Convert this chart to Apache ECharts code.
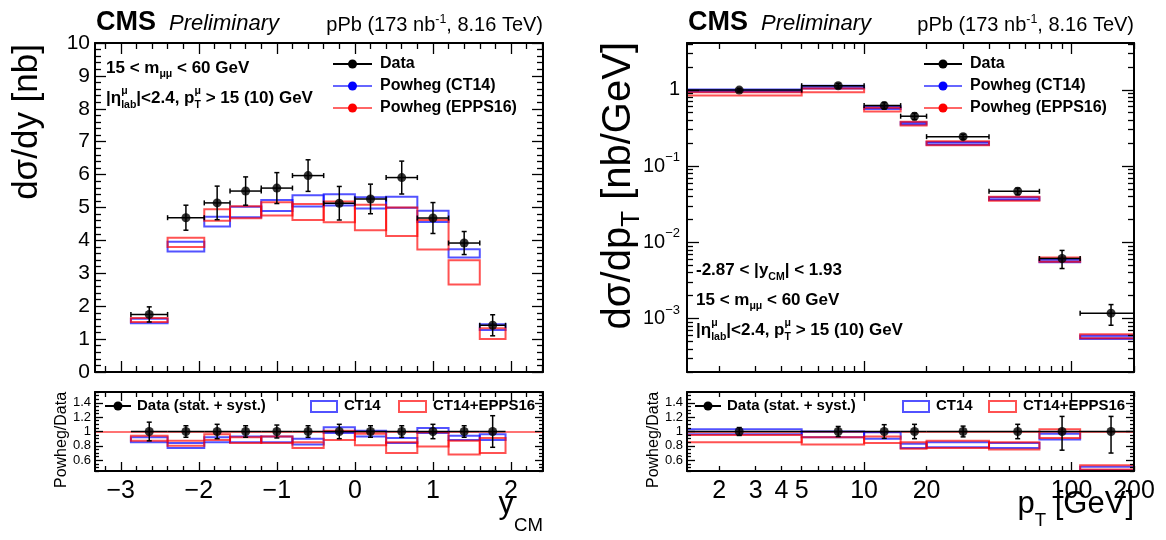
<!DOCTYPE html>
<html><head><meta charset="utf-8">
<script src="https://cdn.jsdelivr.net/npm/echarts@6/dist/echarts.min.js"></script>
<style>html,body{margin:0;padding:0;background:#fff}#c{width:1166px;height:540px}</style>
</head><body><div id="c"></div>
<script>
// ---------------- DATA ----------------
// Left panel: d sigma / dy versus y_CM
const yBinEdges   = [-2.87,-2.4,-1.93,-1.6,-1.2,-0.8,-0.4,0,0.4,0.8,1.2,1.6,1.93];
const yBinCenters = [-2.635,-2.165,-1.765,-1.4,-1.0,-0.6,-0.2,0.2,0.6,1.0,1.4,1.765];
const yData       = [1.75,4.69,5.14,5.50,5.59,5.97,5.13,5.26,5.91,4.68,3.92,1.42];
const yDataErr    = [0.23,0.38,0.51,0.43,0.47,0.48,0.51,0.45,0.50,0.47,0.35,0.32];
const yCT14Lo     = [1.48,3.66,4.42,4.70,4.89,5.03,5.06,4.97,4.99,4.56,3.48,1.28];
const yCT14Hi     = [1.62,3.96,4.72,5.02,5.23,5.37,5.40,5.31,5.33,4.90,3.73,1.45];
const yEPPSLo     = [1.52,3.80,4.60,4.67,4.76,4.62,4.55,4.31,4.13,3.72,2.66,1.00];
const yEPPSHi     = [1.64,4.08,4.95,5.04,5.16,5.11,5.18,5.08,5.00,4.62,3.40,1.33];
const yRatioData  = [1,1,1,1,1,1,1,1,1,1,1,1];
const yRatioErr   = [0.13,0.08,0.10,0.08,0.09,0.08,0.10,0.08,0.08,0.10,0.08,0.22];
const yRatioCT14Lo = [0.85,0.77,0.85,0.85,0.85,0.82,0.98,0.93,0.84,0.98,0.88,0.88];
const yRatioCT14Hi = [0.92,0.84,0.92,0.93,0.93,0.90,1.06,1.01,0.91,1.05,0.94,0.96];
const yRatioEPPSLo = [0.87,0.80,0.88,0.84,0.84,0.77,0.88,0.81,0.70,0.79,0.68,0.70];
const yRatioEPPSHi = [0.94,0.87,0.96,0.92,0.93,0.85,1.01,0.97,0.85,0.99,0.87,0.91];

// Right panel: d sigma / dpT versus pT
const ptBinEdges   = [0,5,10,15,20,40,70,110,200];
const ptBinCenters = [2.5,7.5,12.5,17.5,30,55,90,155];
const ptData       = [0.99,1.13,0.62,0.45,0.243,0.0467,0.00614,0.00118];
const ptDataErrUp  = [0.054,0.08,0.06,0.045,0.018,0.0047,0.0017,0.00035];
const ptDataErrDn  = [0.054,0.08,0.06,0.045,0.018,0.0047,0.0016,0.00036];
const ptCT14Lo     = [0.94,1.04,0.56,0.35,0.190,0.0360,0.00547,0.000543];
const ptCT14Hi     = [1.01,1.13,0.61,0.375,0.206,0.0390,0.00596,0.000602];
const ptEPPSLo     = [0.84,0.93,0.52,0.34,0.187,0.0350,0.00559,0.000555];
const ptEPPSHi     = [0.93,1.04,0.58,0.38,0.211,0.0397,0.00632,0.000625];
const ptRatioData  = [1,1,1,1,1,1,1,1];
const ptRatioErrUp = [0.055,0.07,0.095,0.10,0.075,0.10,0.21,0.21];
const ptRatioErrDn = [0.055,0.07,0.095,0.10,0.075,0.10,0.26,0.30];
const ptRatioCT14Lo = [0.96,0.92,0.90,0.77,0.78,0.77,0.89,0.46];
const ptRatioCT14Hi = [1.03,1.00,0.99,0.83,0.85,0.84,0.97,0.51];
const ptRatioEPPSLo = [0.85,0.82,0.84,0.76,0.77,0.75,0.91,0.47];
const ptRatioEPPSHi = [0.95,0.92,0.93,0.85,0.87,0.85,1.03,0.53];

// Tick labels
const yCMTickLabels   = [-3,-2,-1,0,1,2];
const dsdyTickLabels  = [0,1,2,3,4,5,6,7,8,9,10];
const ratioTickLabels = [0.6,0.8,1,1.2,1.4];
const ptTickLabels    = [2,3,4,5,10,20,100,200];
const ptMajorTicks    = [10,100];
const dsdptTickLabels = [0.001,0.01,0.1,1];

// ---------------- helpers ----------------
const FONT = "'Liberation Sans', Arial, Helvetica, sans-serif";
const BLUE_LINE = 'rgba(0,0,255,0.68)';
const RED_LINE  = 'rgba(255,0,0,0.68)';
const BLUE_FILL = 'rgba(0,0,255,0.42)';

function stepTicks(a, b, step, skipEvery) {
  const out = [];
  const n0 = Math.round(a / step), n1 = Math.round(b / step);
  for (let k = n0; k <= n1; k++) {
    if (skipEvery && k % skipEvery === 0) continue;
    out.push(+(k * step).toFixed(4));
  }
  return out;
}
function logMinor(lo, hi) {
  const out = [];
  for (let e = -5; e <= 3; e++) for (let m = 2; m <= 9; m++) {
    const v = +(m * Math.pow(10, e)).toPrecision(3);
    if (v >= lo && v <= hi) out.push(v);
  }
  return out;
}

const xAx = [], yAx = [];
function addAxisSet(list, dim, o) {
  const posA = dim === 'x' ? 'bottom' : 'left';
  const posB = dim === 'x' ? 'top' : 'right';
  const mk = (pos, line, ticks, len, lab) => {
    const a = {
      type: o.type || 'value', gridIndex: o.grid, position: pos, min: o.min, max: o.max,
      silent: true, z: 10,
      splitLine: {show: false}, minorTick: {show: false}, minorSplitLine: {show: false},
      axisLine: {show: line, onZero: false, lineStyle: {color: '#000', width: 2}},
      axisTick: {show: true, inside: true, length: len, customValues: ticks, lineStyle: {color: '#000', width: 1.3}},
      axisLabel: lab ? {show: true, customValues: o.labels, formatter: o.fmt, fontSize: o.fs, fontFamily: FONT,
                        color: '#000', margin: o.margin, rich: o.rich || {}} : {show: false}
    };
    if (o.type === 'log') a.logBase = 10;
    return a;
  };
  const idx = list.length;
  list.push(mk(posA, true, o.major, o.majorLen, !!o.labels));
  list.push(mk(posA, false, o.minor, o.minorLen, false));
  list.push(mk(posB, true, o.major, o.majorLen, false));
  list.push(mk(posB, false, o.minor, o.minorLen, false));
  return idx;
}
const minusFmt = v => (v < 0 ? '\u2212' + (-v) : String(v));
const ratioFmt = v => String(+(+v).toFixed(1));
const powFmt = v => {
  const e = Math.round(Math.log10(v));
  return e === 0 ? '{m|1}' : '{m|10}{e|\u2212' + (-e) + '}';
};
const powRich = {
  m: {fontSize: 20, fontFamily: FONT, color: '#000', lineHeight: 30},
  e: {fontSize: 13, fontFamily: FONT, color: '#000', verticalAlign: 'top', lineHeight: 14}
};

// axes: grid 0 = left top, 1 = left ratio, 2 = right top, 3 = right ratio
const xLT = addAxisSet(xAx, 'x', {grid: 0, min: -3.33, max: 2.41, major: yCMTickLabels,
  minor: stepTicks(-3.2, 2.4, 0.2, 5), majorLen: 11, minorLen: 6});
const yLT = addAxisSet(yAx, 'y', {grid: 0, min: 0, max: 10, major: dsdyTickLabels,
  minor: stepTicks(0, 10, 0.2, 5), labels: dsdyTickLabels, fmt: v => String(v), fs: 21, margin: 5, majorLen: 11, minorLen: 6});
const xLR = addAxisSet(xAx, 'x', {grid: 1, min: -3.33, max: 2.41, major: yCMTickLabels,
  minor: stepTicks(-3.2, 2.4, 0.2, 5), labels: yCMTickLabels, fmt: minusFmt, fs: 25, margin: 8, majorLen: 9, minorLen: 5});
const yLR = addAxisSet(yAx, 'y', {grid: 1, min: 0.45, max: 1.55, major: ratioTickLabels,
  minor: stepTicks(0.45, 1.55, 0.05, 4), labels: ratioTickLabels, fmt: ratioFmt, fs: 13, margin: 4, majorLen: 8, minorLen: 4});
const xRT = addAxisSet(xAx, 'x', {grid: 2, type: 'log', min: 1.4, max: 200, major: ptMajorTicks,
  minor: logMinor(1.4, 200), majorLen: 11, minorLen: 6});
const yRT = addAxisSet(yAx, 'y', {grid: 2, type: 'log', min: 2e-4, max: 4.1, major: dsdptTickLabels,
  minor: logMinor(2e-4, 4.1), labels: dsdptTickLabels, fmt: powFmt, rich: powRich, fs: 20, margin: 7, majorLen: 12, minorLen: 6});
const xRR = addAxisSet(xAx, 'x', {grid: 3, type: 'log', min: 1.4, max: 200, major: ptMajorTicks,
  minor: logMinor(1.4, 200), labels: ptTickLabels, fmt: v => String(Math.round(v)), fs: 25, margin: 8, majorLen: 9, minorLen: 5});
const yRR = addAxisSet(yAx, 'y', {grid: 3, min: 0.45, max: 1.55, major: ratioTickLabels,
  minor: stepTicks(0.45, 1.55, 0.05, 4), labels: ratioTickLabels, fmt: ratioFmt, fs: 13, margin: 4, majorLen: 8, minorLen: 4});

function boxSeries(xi, yi, edges, lo, hi, stroke, fill, xMin, z) {
  return {
    type: 'custom', xAxisIndex: xi, yAxisIndex: yi, clip: true, z: z, silent: true,
    encode: {x: 1, y: 2},
    data: lo.map((l, i) => [edges[i], edges[i + 1], l, hi[i]]),
    renderItem(params, api) {
      const a = api.coord([Math.max(api.value(0), xMin), api.value(3)]);
      const b = api.coord([api.value(1), api.value(2)]);
      return {type: 'rect', shape: {x: a[0], y: a[1], width: b[0] - a[0], height: b[1] - a[1]},
              style: {fill: fill, stroke: stroke, lineWidth: 2}};
    }
  };
}
function errSeries(xi, yi, edges, centers, vals, up, dn, xMin, hCaps) {
  return {
    type: 'custom', xAxisIndex: xi, yAxisIndex: yi, clip: true, z: 5, silent: true,
    encode: {x: 0, y: 1},
    data: centers.map((c, i) => [c, vals[i], edges[i], edges[i + 1], vals[i] + up[i], vals[i] - dn[i]]),
    renderItem(params, api) {
      const c = api.coord([api.value(0), api.value(1)]);
      const xl = api.coord([Math.max(api.value(2), xMin), api.value(1)])[0];
      const xr = api.coord([api.value(3), api.value(1)])[0];
      const yt = api.coord([api.value(0), api.value(4)])[1];
      const yb = api.coord([api.value(0), api.value(5)])[1];
      const st = {stroke: '#000', lineWidth: 1.5};
      const k = 2.5;
      const ch = [
        {type: 'line', shape: {x1: xl, y1: c[1], x2: xr, y2: c[1]}, style: st},
        {type: 'line', shape: {x1: c[0], y1: yt, x2: c[0], y2: yb}, style: st},
        {type: 'line', shape: {x1: c[0] - k, y1: yt, x2: c[0] + k, y2: yt}, style: st},
        {type: 'line', shape: {x1: c[0] - k, y1: yb, x2: c[0] + k, y2: yb}, style: st}
      ];
      if (hCaps) {
        ch.push({type: 'line', shape: {x1: xl, y1: c[1] - k, x2: xl, y2: c[1] + k}, style: st});
        ch.push({type: 'line', shape: {x1: xr, y1: c[1] - k, x2: xr, y2: c[1] + k}, style: st});
      }
      return {type: 'group', children: ch};
    }
  };
}
function dotSeries(xi, yi, centers, vals, refLine) {
  const s = {
    type: 'scatter', xAxisIndex: xi, yAxisIndex: yi, z: 6, silent: true,
    symbol: 'circle', symbolSize: 9, itemStyle: {color: '#000'},
    data: centers.map((c, i) => [c, vals[i]])
  };
  if (refLine) s.markLine = {silent: true, symbol: 'none', z: 1, animation: false, label: {show: false},
    lineStyle: {color: 'rgba(255,0,0,0.55)', width: 2, type: 'solid'}, data: [{yAxis: 1}]};
  return s;
}

const NEG = -Infinity;
const series = [
  boxSeries(xLT, yLT, yBinEdges, yCT14Lo, yCT14Hi, BLUE_LINE, 'none', NEG, 2),
  boxSeries(xLT, yLT, yBinEdges, yEPPSLo, yEPPSHi, RED_LINE, 'none', NEG, 3),
  errSeries(xLT, yLT, yBinEdges, yBinCenters, yData, yDataErr, yDataErr, NEG, true),
  dotSeries(xLT, yLT, yBinCenters, yData),

  boxSeries(xLR, yLR, yBinEdges, yRatioCT14Lo, yRatioCT14Hi, BLUE_LINE, 'none', NEG, 2),
  boxSeries(xLR, yLR, yBinEdges, yRatioEPPSLo, yRatioEPPSHi, RED_LINE, 'none', NEG, 3),
  errSeries(xLR, yLR, yBinEdges, yBinCenters, yRatioData, yRatioErr, yRatioErr, NEG, false),
  dotSeries(xLR, yLR, yBinCenters, yRatioData, true),

  boxSeries(xRT, yRT, ptBinEdges, ptCT14Lo, ptCT14Hi, BLUE_LINE, BLUE_FILL, 1.4, 2),
  boxSeries(xRT, yRT, ptBinEdges, ptEPPSLo, ptEPPSHi, RED_LINE, 'none', 1.4, 3),
  errSeries(xRT, yRT, ptBinEdges, ptBinCenters, ptData, ptDataErrUp, ptDataErrDn, 1.4, true),
  dotSeries(xRT, yRT, ptBinCenters, ptData),

  boxSeries(xRR, yRR, ptBinEdges, ptRatioCT14Lo, ptRatioCT14Hi, BLUE_LINE, 'none', 1.4, 2),
  boxSeries(xRR, yRR, ptBinEdges, ptRatioEPPSLo, ptRatioEPPSHi, RED_LINE, 'none', 1.4, 3),
  errSeries(xRR, yRR, ptBinEdges, ptBinCenters, ptRatioData, ptRatioErrUp, ptRatioErrDn, 1.4, false),
  dotSeries(xRR, yRR, ptBinCenters, ptRatioData, true)
];

// ---------------- text with sub/superscripts ----------------
const mctx = document.createElement('canvas').getContext('2d');
function tw(t, size, weight, fst) {
  mctx.font = fst + ' ' + weight + ' ' + size + 'px ' + FONT;
  return mctx.measureText(t).width;
}
function mathGroup(x0, y0, pieces, S, opt, align, rotation) {
  opt = opt || {};
  const weight = opt.weight || 'normal', fst = opt.style || 'normal', col = opt.color || '#000';
  const ss = S * (opt.scale || 0.62);
  const subDy = opt.subDy != null ? opt.subDy : 0.3 * S;
  const supDy = opt.supDy != null ? opt.supDy : -0.45 * S;
  const els = []; let x = 0;
  function put(t, size, base) {
    els.push({type: 'text', x: x, y: base - 0.35 * size, silent: true,
      style: {text: t, fontSize: size, fontFamily: FONT, fontWeight: weight, fontStyle: fst, fill: col,
              align: 'left', verticalAlign: 'middle', textAlign: 'left', textVerticalAlign: 'middle'}});
    return tw(t, size, weight, fst);
  }
  pieces.forEach(p => {
    if (p.ss) { const w1 = put(p.ss[0], ss, supDy); const w2 = put(p.ss[1], ss, subDy); x += Math.max(w1, w2); }
    else if (p.k === 'sub') x += put(p.t, ss, subDy);
    else if (p.k === 'sup') x += put(p.t, ss, supDy);
    else x += put(p.t, S, 0);
  });
  const off = align === 'right' ? -x : align === 'center' ? -x / 2 : 0;
  els.forEach(e => { e.x += off; });
  return {type: 'group', x: x0, y: y0, rotation: rotation || 0, silent: true, children: els};
}
function legLine(x1, x2, y, lineColor, dotColor) {
  return [
    {type: 'line', silent: true, shape: {x1: x1, y1: y, x2: x2, y2: y}, style: {stroke: lineColor, lineWidth: 2}},
    {type: 'circle', silent: true, shape: {cx: (x1 + x2) / 2, cy: y, r: 4.5}, style: {fill: dotColor}}
  ];
}
function legBox(x1, x2, y1, y2, color) {
  return {type: 'rect', silent: true, shape: {x: x1, y: y1, width: x2 - x1, height: y2 - y1},
          style: {fill: 'none', stroke: color, lineWidth: 2}};
}

const B = {weight: 'bold'};
const g = [];
[0, 592].forEach(dx => {
  g.push(mathGroup(96 + dx, 32, [{t: 'CMS'}], 27, B));
  g.push(mathGroup(169 + dx, 32, [{t: 'Preliminary'}], 22, {style: 'italic'}));
  g.push(mathGroup(543 + dx - (dx ? 1 : 0), 32, [{t: 'pPb (173 nb'}, {t: '-1', k: 'sup'}, {t: ', 8.16 TeV)'}], 20, {supDy: -8}, 'right'));
  // legend (top)
  const lx = dx ? 924 : 333, lx2 = dx ? 962 : 372, tx = dx ? 970 : 380;
  g.push(...legLine(lx, lx2, 64, '#000', '#000'));
  g.push(...legLine(lx, lx2, 86, 'rgba(0,0,255,0.6)', '#0000ff'));
  g.push(...legLine(lx, lx2, 108, 'rgba(255,0,0,0.6)', '#ff0000'));
  g.push(mathGroup(tx, 69.5, [{t: 'Data'}], 16, B));
  g.push(mathGroup(tx, 91.5, [{t: 'Powheg (CT14)'}], 16, B));
  g.push(mathGroup(tx, 113.5, [{t: 'Powheg (EPPS16)'}], 16, B));
  // ratio legend
  const rx = dx ? 695 : 105;
  g.push(...legLine(rx, rx + 26, 406, '#000', '#000'));
  g.push(mathGroup(rx + 32, 411.5, [{t: 'Data (stat. + syst.)'}], 15, B));
  const bx = dx ? 903 : 311, ex = dx ? 989 : 399;
  g.push(legBox(bx, bx + 26, 401, 412, BLUE_LINE));
  g.push(mathGroup(bx + 33, 411.5, [{t: 'CT14'}], 15, B));
  g.push(legBox(ex, ex + 27, 401, 412, RED_LINE));
  g.push(mathGroup(ex + 34, 411.5, [{t: 'CT14+EPPS16'}], 15, B));
  // ratio y title
  g.push(mathGroup(67 + dx, 440, [{t: 'Powheg/Data'}], 16, {}, 'center', Math.PI / 2));
});
// left annotations
g.push(mathGroup(106, 74, [{t: '15 < m'}, {t: '\u03bc\u03bc', k: 'sub'}, {t: ' < 60 GeV'}], 17, Object.assign({subDy: 4}, B)));
g.push(mathGroup(106, 104, [{t: '|\u03b7'}, {ss: ['\u03bc', 'lab']}, {t: '|<2.4, p'}, {ss: ['\u03bc', 'T']}, {t: ' > 15 (10) GeV'}], 17, Object.assign({subDy: 5, supDy: -9}, B)));
// right annotations
g.push(mathGroup(696, 276, [{t: '-2.87 < |y'}, {t: 'CM', k: 'sub'}, {t: '| < 1.93'}], 17, Object.assign({subDy: 5}, B)));
g.push(mathGroup(696, 306, [{t: '15 < m'}, {t: '\u03bc\u03bc', k: 'sub'}, {t: ' < 60 GeV'}], 17, Object.assign({subDy: 4}, B)));
g.push(mathGroup(696, 336, [{t: '|\u03b7'}, {ss: ['\u03bc', 'lab']}, {t: '|<2.4, p'}, {ss: ['\u03bc', 'T']}, {t: ' > 15 (10) GeV'}], 17, Object.assign({subDy: 5, supDy: -9}, B)));
// axis titles
g.push(mathGroup(40, 44, [{t: 'd\u03c3/dy [nb]'}], 35, {}, 'right', Math.PI / 2));
g.push(mathGroup(633, 42, [{t: 'd\u03c3/dp'}, {t: 'T', k: 'sub'}, {t: ' [nb/GeV]'}], 40, {subDy: 8, scale: 0.65}, 'right', Math.PI / 2));
g.push(mathGroup(543, 515, [{t: 'y'}, {t: 'CM', k: 'sub'}], 31, {subDy: 17, scale: 0.6}, 'right'));
g.push(mathGroup(1134, 515, [{t: 'p'}, {t: 'T', k: 'sub'}, {t: ' [GeV]'}], 31, {subDy: 12, scale: 0.6}, 'right'));

const chart = echarts.init(document.getElementById('c'), null, {renderer: 'canvas'});
chart.setOption({
  animation: false,
  backgroundColor: '#fff',
  grid: [
    {left: 95, top: 43, width: 448, height: 329, containLabel: false, outerBoundsMode: 'none'},
    {left: 95, top: 392, width: 448, height: 79, containLabel: false, outerBoundsMode: 'none'},
    {left: 687, top: 43, width: 447, height: 329, containLabel: false, outerBoundsMode: 'none'},
    {left: 687, top: 392, width: 447, height: 79, containLabel: false, outerBoundsMode: 'none'}
  ],
  xAxis: xAx,
  yAxis: yAx,
  series: series,
  graphic: {elements: g}
});
</script></body></html>
